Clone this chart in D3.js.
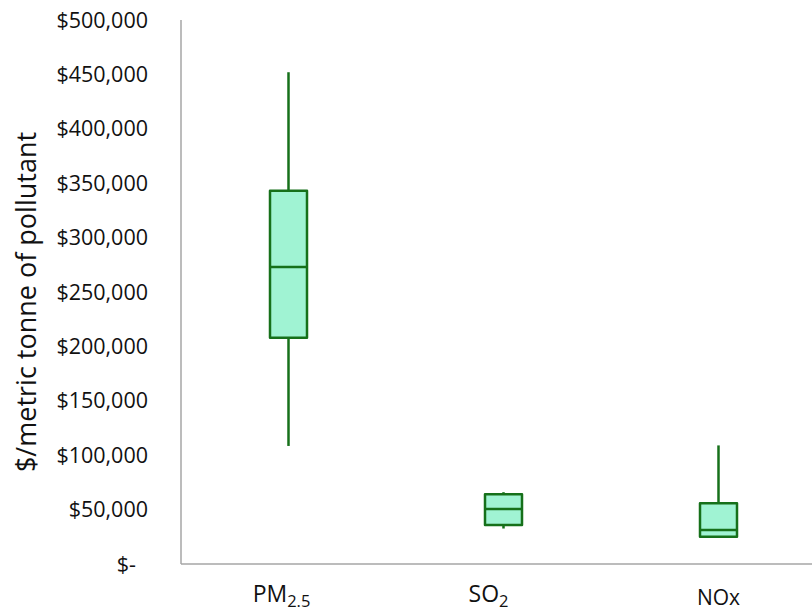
<!DOCTYPE html>
<html>
<head>
<meta charset="utf-8">
<script src="https://cdn.jsdelivr.net/npm/d3@7"></script>
<style>
  html, body { margin: 0; padding: 0; background: #fff; }
  svg { display: block; font-family: "Open Sans", "Noto Sans", sans-serif; }
</style>
</head>
<body>
<svg id="chart" width="812" height="615"></svg>
<script>
// Pollutant categories (label base text + subscript)
const categories = ["PM2.5", "SO2", "NOx"];
const labelBase = ["PM", "SO", "NOx"];
const labelSub = ["2.5", "2", ""];

// Box-plot statistics, $/metric tonne
const whiskerMax = [452000, 66000, 109000];
const q3 = [343000, 64000, 55800];
const median = [273000, 50500, 31200];
const q1 = [208000, 35800, 25100];
const whiskerMin = [108500, 32600, 25100];

// Y axis ticks
const yTicks = [0, 50000, 100000, 150000, 200000, 250000, 300000, 350000, 400000, 450000, 500000];

const svg = d3.select("#chart");
const plotLeft = 181, plotTop = 20, plotBottom = 564, plotRight = 826;

const x = d3.scaleBand().domain(categories).range([plotLeft, plotRight]).padding(0);
const y = d3.scaleLinear().domain([0, 500000]).range([plotBottom, plotTop]);

const fmt = v => v === 0 ? "$-" : "$" + d3.format(",")(v);

// Y tick labels (no tick marks)
svg.append("g").selectAll("text").data(yTicks).join("text")
  .attr("x", d => d === 0 ? 136 : 148)
  .attr("y", d => y(d))
  .attr("dy", "0.35em")
  .attr("text-anchor", "end")
  .attr("font-size", 21.5)
  .attr("fill", "#111")
  .text(d => fmt(d));

// Axis lines
svg.append("line")
  .attr("x1", plotLeft).attr("x2", plotLeft)
  .attr("y1", y(500000)).attr("y2", y(0))
  .attr("stroke", "#a6a6a6").attr("stroke-width", 1.5);
svg.append("line")
  .attr("x1", plotLeft).attr("x2", 812)
  .attr("y1", y(0)).attr("y2", y(0))
  .attr("stroke", "#a6a6a6").attr("stroke-width", 1.5);

// Y axis title
svg.append("text")
  .attr("transform", `translate(27,302) rotate(-90)`)
  .attr("text-anchor", "middle")
  .attr("dy", "0.35em")
  .attr("font-size", 27)
  .attr("fill", "#111")
  .text("$/metric tonne of pollutant");

// Boxes
const boxW = 37;
const stroke = "#16701a";
const data = categories.map((c, i) => ({
  c, max: whiskerMax[i], q3: q3[i], med: median[i], q1: q1[i], min: whiskerMin[i]
}));

const g = svg.append("g").selectAll("g").data(data).join("g")
  .attr("transform", d => `translate(${x(d.c) + x.bandwidth() / 2},0)`);

// whiskers
g.append("line")
  .attr("x1", 0).attr("x2", 0)
  .attr("y1", d => y(d.max)).attr("y2", d => y(d.q3))
  .attr("stroke", stroke).attr("stroke-width", 2.5);
g.append("line")
  .attr("x1", 0).attr("x2", 0)
  .attr("y1", d => y(d.q1)).attr("y2", d => y(d.min))
  .attr("stroke", stroke).attr("stroke-width", 2.5);

// box
g.append("rect")
  .attr("x", -boxW / 2)
  .attr("width", boxW)
  .attr("y", d => y(d.q3))
  .attr("height", d => y(d.q1) - y(d.q3))
  .attr("fill", "#a0f3d3")
  .attr("stroke", stroke).attr("stroke-width", 2.5)
  .attr("stroke-linejoin", "round");

// median
g.append("line")
  .attr("x1", -boxW / 2).attr("x2", boxW / 2)
  .attr("y1", d => y(d.med)).attr("y2", d => y(d.med))
  .attr("stroke", stroke).attr("stroke-width", 2.5);

// Category labels: text boxes sit slightly off the box centres
const labelShift = [-7, -15, 0];
const lab = svg.append("g").selectAll("text").data(categories).join("text")
  .attr("x", (d, i) => x(d) + x.bandwidth() / 2 + labelShift[i])
  .attr("y", (d, i) => labelSub[i] ? 602 : 605)
  .attr("text-anchor", "middle")
  .attr("font-size", (d, i) => labelSub[i] ? 23 : 21)
  .attr("fill", "#111");
lab.append("tspan").text((d, i) => labelBase[i]);
lab.append("tspan")
  .attr("font-size", 16.5)
  .attr("dy", 5)
  .text((d, i) => labelSub[i]);
</script>
</body>
</html>
